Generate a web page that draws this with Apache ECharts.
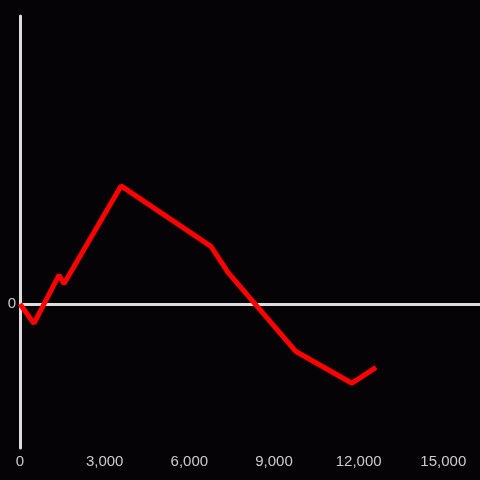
<!DOCTYPE html>
<html><head><meta charset="utf-8">
<script src="https://cdn.jsdelivr.net/npm/echarts@6/dist/echarts.min.js"></script>
<style>html,body{margin:0;padding:0;background:#050306;}#c{width:480px;height:480px;}</style>
</head><body><div id="c"></div>
<script>
const xValues = [0, 496, 1382, 1559, 3579, 6767, 7370, 9779, 11763, 12614];
const yValues = [0, -13.5, 20, 14, 82, 40, 22, -33, -55, -44];
const xTicks = [0, 3000, 6000, 9000, 12000, 15000];

const data = xValues.map((x, i) => [x, yValues[i]]);
const chart = echarts.init(document.getElementById('c'));
chart.setOption({
  backgroundColor: '#050306',
  animation: false,
  grid: { left: 20, right: 0, top: 16, bottom: 32, containLabel: false },
  xAxis: {
    type: 'value', min: 0, max: 16300, interval: 3000,
    axisLine: { show: false, onZero: false },
    axisTick: { show: false },
    splitLine: { show: false },
    axisLabel: {
      color: '#cccccc', fontSize: 15, margin: 6, showMaxLabel: false,
      fontFamily: 'Liberation Sans, Arial, sans-serif',
      formatter: v => xTicks.includes(v) ? v.toLocaleString('en-US') : ''
    }
  },
  yAxis: {
    type: 'value', min: -100, max: 200, interval: 100,
    axisLine: { show: true, lineStyle: { color: '#dddddd', width: 3 } },
    axisTick: { show: false },
    splitLine: { show: false },
    axisLabel: { color: '#cccccc', fontSize: 15, margin: 4,
      fontFamily: 'Liberation Sans, Arial, sans-serif',
      formatter: v => v === 0 ? '0' : '' }
  },
  series: [{
    type: 'line', data: data, symbol: 'none',
    lineStyle: { color: '#ff0000', width: 5 },
    z: 3,
    markLine: {
      silent: true, symbol: 'none', label: { show: false },
      lineStyle: { color: '#dddddd', width: 3, type: 'solid' },
      data: [{ yAxis: 0 }], z: 1
    }
  }]
});
</script></body></html>
